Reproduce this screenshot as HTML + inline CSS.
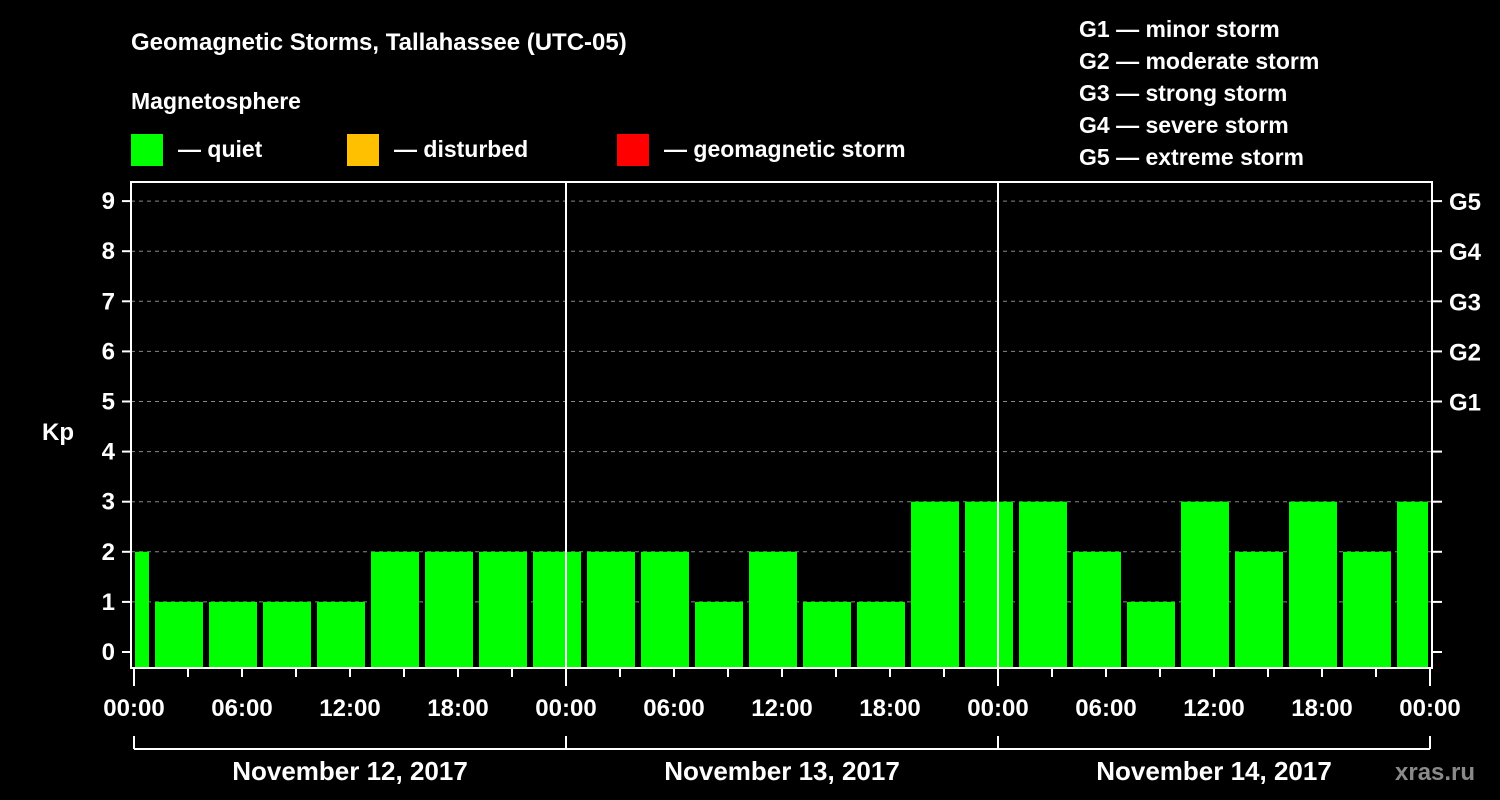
<!DOCTYPE html>
<html><head><meta charset="utf-8"><style>
body{margin:0;background:#000;width:1500px;height:800px;overflow:hidden}
svg{display:block}
text{font-family:"Liberation Sans",sans-serif;font-weight:bold;fill:#fff}
</style></head><body>
<svg id="c" width="1500" height="800">
<text x="131" y="50" font-size="24">Geomagnetic Storms, Tallahassee (UTC-05)</text>
<text x="131" y="109" font-size="23">Magnetosphere</text>
<rect x="131" y="134" width="32" height="32" fill="#00ff00"/>
<text x="178" y="157" font-size="23">— quiet</text>
<rect x="347" y="134" width="32" height="32" fill="#ffc000"/>
<text x="394" y="157" font-size="23">— disturbed</text>
<rect x="617" y="134" width="32" height="32" fill="#ff0000"/>
<text x="664" y="157" font-size="23">— geomagnetic storm</text>
<g font-size="23">
<text x="1079" y="37">G1 — minor storm</text>
<text x="1079" y="69">G2 — moderate storm</text>
<text x="1079" y="101">G3 — strong storm</text>
<text x="1079" y="133">G4 — severe storm</text>
<text x="1079" y="165">G5 — extreme storm</text>
</g>
<text x="42" y="440" font-size="24">Kp</text>
<text x="1395" y="780" font-size="24" fill="#888" style="fill:#8a8a8a">xras.ru</text>
<g id="plot"></g>
</svg>
<script>
const kpValues=[2,1,1,1,1,2,2,2,2,2,2,1,2,1,1,3,3,3,2,1,3,2,3,2,3];
const barStartHours=[-2,1,4,7,10,13,16,19,22,25,28,31,34,37,40,43,46,49,52,55,58,61,64,67,70];
const yTicks=[0,1,2,3,4,5,6,7,8,9];
const gLabels=["G1","G2","G3","G4","G5"];
const gLevels=[5,6,7,8,9];
const xTickLabels=["00:00","06:00","12:00","18:00","00:00","06:00","12:00","18:00","00:00","06:00","12:00","18:00","00:00"];
const dayLabels=["November 12, 2017","November 13, 2017","November 14, 2017"];
const X0=134,PXH=18,L=131,R=1432,T=182,B=668;
const x=h=>X0+h*PXH;
const y=v=>652-v*50.1;
const NS="http://www.w3.org/2000/svg";
const g=document.getElementById('plot');
function mk(t,a,txt){const e=document.createElementNS(NS,t);for(const k in a)e.setAttribute(k,a[k]);if(txt!==undefined)e.textContent=txt;g.appendChild(e);return e;}
yTicks.forEach(v=>{
 if(v>0){const e=mk('line',{x1:L,x2:R,y1:y(v),y2:y(v),stroke:'#888','stroke-dasharray':'4,4','stroke-width':1});
 
 }
 const t=mk('line',{x1:L-9,x2:L,y1:y(v),y2:y(v),stroke:'#fff','stroke-width':2});
 
 
 const t2=mk('line',{x1:R,x2:R+10,y1:y(v),y2:y(v),stroke:'#fff','stroke-width':2});
 
 
 const l=mk('text',{x:L-16,y:y(v)+8,'font-size':24,'text-anchor':'end'},String(v));
 
 
});
gLabels.forEach((s,i)=>{
 const l=mk('text',{x:R+17,y:y(gLevels[i])+9,'font-size':24},s);
 
 
});
kpValues.forEach((v,i)=>{
 const a=Math.max(x(barStartHours[i])+3,L+4),b=Math.min(x(barStartHours[i]+3)-3,R-4);
 const r=mk('rect',{x:a,y:y(v),width:b-a,height:B-y(v),fill:'#00ff00'});
 
 
});
for(let d=1;d<3;d++){const e=mk('line',{x1:x(d*24),x2:x(d*24),y1:T,y2:B,stroke:'#fff','stroke-width':2});
 
 }
const f=mk('rect',{x:L,y:T,width:R-L,height:B-T,fill:'none',stroke:'#fff','stroke-width':2});


for(let h=0;h<=72;h+=3){const big=h%24==0;const e=mk('line',{x1:x(h),x2:x(h),y1:B,y2:B+(big?18:9),stroke:'#fff','stroke-width':2});
 
 }
xTickLabels.forEach((s,i)=>{const l=mk('text',{x:x(i*6),y:716,'font-size':24,'text-anchor':'middle'},s);
 
 });
const br=mk('line',{x1:x(0),x2:x(72),y1:749,y2:749,stroke:'#fff','stroke-width':2});


for(let d=0;d<=3;d++){const e=mk('line',{x1:x(d*24),x2:x(d*24),y1:736,y2:749,stroke:'#fff','stroke-width':2});
 
 }
dayLabels.forEach((s,i)=>{const l=mk('text',{x:x(i*24+12),y:780,'font-size':26,'text-anchor':'middle'},s);
 
 });
</script>
</body></html>
